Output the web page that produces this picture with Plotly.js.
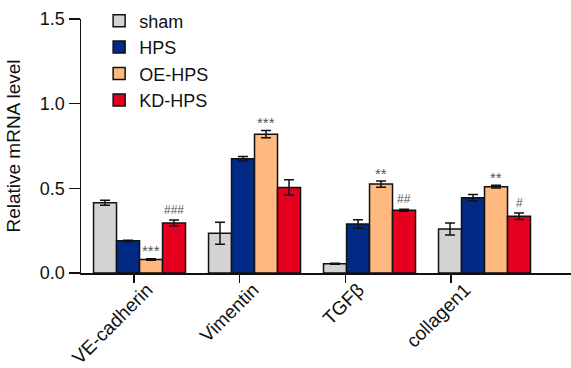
<!DOCTYPE html>
<html>
<head>
<meta charset="utf-8">
<script src="https://cdn.plot.ly/plotly-3.0.1.min.js"></script>
<style>html,body{margin:0;padding:0;background:#fff;}#chart{width:571px;height:368px;}
.xl{position:absolute;white-space:nowrap;font-family:Arial,'Liberation Sans',sans-serif;font-size:19px;line-height:19px;color:#111;transform-origin:right top;transform:rotate(-45deg);}</style>
</head>
<body>
<div id="chart"></div>
<script>
const categories = ['VE-cadherin', 'Vimentin', 'TGFβ', 'collagen1'];
const seriesNames = ['sham', 'HPS', 'OE-HPS', 'KD-HPS'];
const sham = [0.415, 0.235, 0.055, 0.26];
const shamErr = [0.015, 0.065, 0.003, 0.035];
const hps = [0.19, 0.675, 0.29, 0.445];
const hpsErr = [0.004, 0.013, 0.025, 0.018];
const oe = [0.08, 0.82, 0.525, 0.51];
const oeErr = [0.004, 0.022, 0.018, 0.008];
const kd = [0.295, 0.505, 0.37, 0.335];
const kdErr = [0.018, 0.045, 0.006, 0.019];
const oeSig = ['***', '***', '**', '**'];
const kdSig = ['###', '', '##', '#'];
const yTicks = [0, 0.5, 1.0, 1.5];
const tickPos = [0, 1, 2, 3];

const FAM = 'Arial';
const colors = ['#D3D3D3', '#002A85', '#FFB97F', '#E6001F'];
const values = [sham, hps, oe, kd];
const errs = [shamErr, hpsErr, oeErr, kdErr];

const traces = values.map((v, i) => ({
  type: 'bar',
  name: seriesNames[i],
  x: categories,
  y: v,
  marker: {color: colors[i], line: {color: '#111', width: 1.5}},
  error_y: {type: 'data', array: errs[i], visible: true, color: '#111', thickness: 1.5, width: 5},
  xaxis: 'x2',
  yaxis: 'y'
}));

const annotations = [];
const labelAnns = [];
categories.forEach((c, j) => {
  if (oeSig[j]) annotations.push({
    x: c, xref: 'x2', y: oe[j] + oeErr[j], yref: 'y', text: oeSig[j],
    showarrow: false, xshift: 11.5, yshift: 8, yanchor: 'middle',
    font: {family: FAM, size: 15, color: '#555'}
  });
  if (kdSig[j]) annotations.push({
    x: c, xref: 'x2', y: kd[j] + kdErr[j], yref: 'y', text: kdSig[j],
    showarrow: false, xshift: 34.5, yshift: 10, yanchor: 'middle',
    font: {family: FAM, size: 12, color: '#555'}
  });
  labelAnns.push({
    x: tickPos[j], xref: 'x', y: 0, yref: 'y', text: c, textangle: -45,
    showarrow: false, xanchor: 'right', yanchor: 'top', xshift: 7, yshift: -9,
    font: {size: 16}
  });
});

const layout = {
  width: 571, height: 368,
  margin: {l: 81, r: 0, t: 19, b: 95},
  paper_bgcolor: '#fff', plot_bgcolor: '#fff',
  font: {size: 18},
  barmode: 'group', bargap: 0.2, bargroupgap: 0,
  showlegend: true,
  legend: {x: 0.037, xanchor: 'left', y: 1.065, yanchor: 'top', bgcolor: 'rgba(0,0,0,0)',
           font: {family: FAM, size: 18, color: '#111'}, tracegroupgap: 0},
  xaxis: {type: 'linear', range: [-0.501, 4.134], tickmode: 'array', tickvals: tickPos,
          showticklabels: false, ticks: 'outside', ticklen: 8, tickwidth: 1.5, tickcolor: '#111',
          showline: true, linecolor: '#111', linewidth: 1.5, showgrid: false, zeroline: false},
  xaxis2: {type: 'category', overlaying: 'x', anchor: 'y', side: 'bottom', range: [-0.509, 3.752],
           showticklabels: false, ticks: '', showline: false, showgrid: false, zeroline: false},
  yaxis: {range: [0, 1.5], tickvals: yTicks, tickformat: '.1f', ticks: 'outside', ticklen: 11, tickwidth: 1.5,
          tickcolor: '#111', showline: true, linecolor: '#111', linewidth: 1.5, showgrid: false, zeroline: false,
          tickfont: {family: FAM, size: 18, color: '#111'},
          title: {text: 'Relative mRNA level', font: {family: FAM, size: 19, color: '#111'}, standoff: 14}},
  annotations: annotations
};

traces.unshift({type: 'scatter', x: [0], y: [0], xaxis: 'x', yaxis: 'y', mode: 'markers',
             marker: {opacity: 0}, showlegend: false, hoverinfo: 'skip'});

Plotly.newPlot('chart', traces, layout, {staticPlot: true}).then(gd => {
  try {
    const fl = gd._fullLayout;
    const xa = fl.xaxis, ya = fl.yaxis, sz = fl._size;
    const py = sz.t + ya.l2p(0);
    categories.forEach((c, j) => {
      const px = sz.l + xa.l2p(tickPos[j]);
      if (!isFinite(px) || !isFinite(py)) throw new Error('bad position');
      const d = document.createElement('div');
      d.className = 'xl';
      d.textContent = c;
      d.style.right = (571 - (px + 9)) + 'px';
      d.style.top = (py + 7) + 'px';
      document.body.appendChild(d);
    });
  } catch (e) {
    document.querySelectorAll('.xl').forEach(n => n.remove());
    Plotly.relayout(gd, {annotations: annotations.concat(labelAnns)});
  }
});
</script>
</body>
</html>
